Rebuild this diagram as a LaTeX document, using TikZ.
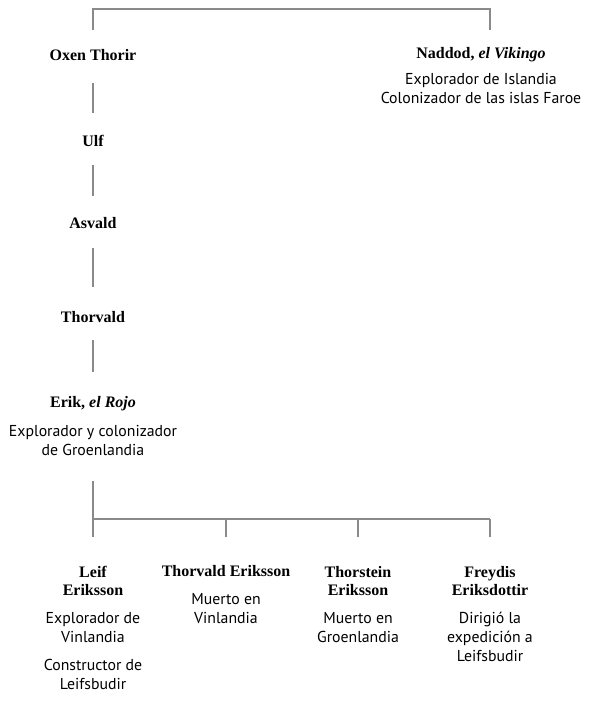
\documentclass[tikz,border=0pt]{standalone}
\usepackage{fontspec}
\setmainfont{Liberation Serif}
\newfontfamily\descfam{PT Sans}
\definecolor{linegray}{HTML}{8A8A8A}
\begin{document}
\begin{tikzpicture}[x=1pt,y=-1pt,
  pname/.style={font=\bfseries\fontsize{16}{18}\selectfont, anchor=base, inner sep=0pt, align=center},
  pdesc/.style={font=\descfam\fontsize{15.8}{19}\selectfont, anchor=base, inner sep=0pt, align=center},
  link/.style={draw=linegray, line width=1.1pt}]
\useasboundingbox (0,0) rectangle (600,711);
% ancestors (base = baseline of the last line)
\node[pname] (oxen) at (93,61) {Oxen Thorir};
\node[pname] (naddod) at (481,59) {Naddod, \textit{el Vikingo}};
\node[pdesc] (naddodD) at (481,104) {Explorador de Islandia\\Colonizador de las islas Faroe};
\node[pname] (ulf) at (93,147) {Ulf};
\node[pname] (asvald) at (93,229) {Asvald};
\node[pname] (thorvald) at (93,322) {Thorvald};
\node[pname] (erik) at (93,407) {Erik, \textit{el Rojo}};
\node[pdesc] (erikD) at (93,455) {Explorador y colonizador\\de Groenlandia};
% children
\node[pname] (leif) at (93,595) {Leif\\Eriksson};
\node[pdesc] (leifD1) at (93,642) {Explorador de\\Vinlandia};
\node[pdesc] (leifD2) at (93,689) {Constructor de\\Leifsbudir};
\node[pname] (thorvaldE) at (226,576) {Thorvald Eriksson};
\node[pdesc] (thorvaldED) at (226,623) {Muerto en\\Vinlandia};
\node[pname] (thorstein) at (358,595) {Thorstein\\Eriksson};
\node[pdesc] (thorsteinD) at (358,642) {Muerto en\\Groenlandia};
\node[pname] (freydis) at (490,595) {Freydis\\Eriksdottir};
\node[pdesc] (freydisD) at (490,661) {Dirigió la\\expedición a\\Leifsbudir};
% top bracket
\coordinate (topL) at (93,30);
\coordinate (topR) at (490,30);
\coordinate (topbar) at (0,9);
\draw[link] (topL) -- (topL |- topbar) -- (topR |- topbar) -- (topR);
% chain
\draw[link] ([yshift=-22pt]oxen.base) -- ([yshift=34pt]ulf.base);
\draw[link] ([yshift=-18pt]ulf.base) -- ([yshift=33pt]asvald.base);
\draw[link] ([yshift=-19pt]asvald.base) -- ([yshift=35pt]thorvald.base);
\draw[link] ([yshift=-18pt]thorvald.base) -- ([yshift=35pt]erik.base);
% fork to children
\coordinate (erikEnd) at (93,481);
\coordinate (bar2) at (0,519);
\draw[link] (erikEnd) -- (erikEnd |- bar2);
\draw[link] (leif |- bar2) -- (freydis |- bar2);
\foreach \c in {leif,thorvaldE,thorstein,freydis}
  \draw[link] (\c |- bar2) -- ++(0,18);
\end{tikzpicture}
\end{document}
